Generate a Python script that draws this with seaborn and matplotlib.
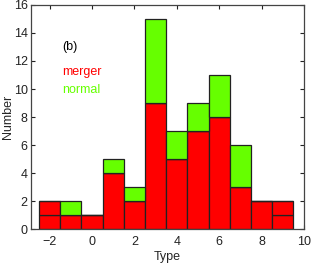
import pandas as pd
import numpy as np
import seaborn as sns
import matplotlib.pyplot as plt

# Morphological type bins and counts
types = [-2, -1, 0, 1, 2, 3, 4, 5, 6, 7, 8, 9]
merger_low = [1, 1, 1, 4, 2, 9, 5, 7, 8, 3, 2, 1]
merger_high = [1, 0, 0, 0, 0, 0, 0, 0, 0, 0, 0, 1]
normal = [0, 1, 0, 1, 1, 6, 2, 2, 3, 3, 0, 0]

groups = {"merger_low": merger_low, "merger_high": merger_high, "normal": normal}
rows = []
for name, counts in groups.items():
    for t, c in zip(types, counts):
        rows.append({"Type": t, "group": name, "count": c})
df = pd.DataFrame(rows)

red = "#ff0000"
green = "#66ff00"

sns.set_style("ticks")
plt.rcParams['font.family'] = ['Liberation Sans', 'DejaVu Sans']

fig = plt.figure(figsize=(3.14, 2.71), dpi=100)
ax = fig.add_axes([0.099, 0.154, 0.869, 0.828])

sns.histplot(data=df, x="Type", weights="count", hue="group",
             hue_order=["normal", "merger_high", "merger_low"],
             palette={"normal": green, "merger_high": red, "merger_low": red},
             multiple="stack", discrete=True, alpha=1,
             edgecolor="#222222", linewidth=0.9, legend=False, ax=ax)

ax.set_xlim(-2.87, 10)
ax.set_ylim(0, 16)
ax.set_xticks(range(-2, 11, 2))
ax.set_yticks(range(0, 17, 2))
ax.tick_params(direction="in", top=True, right=True, length=3, width=0.8,
               labelsize=9, colors="#222222", pad=2.5)
ax.tick_params(axis="x", pad=4.5)
for s in ax.spines.values():
    s.set_linewidth(0.9)
    s.set_color("#444444")
ax.set_xlabel("Type", fontsize=9, labelpad=2.5)
ax.set_ylabel("Number", fontsize=9)
ax.yaxis.set_label_coords(-0.062, 0.5)

ax.text(-1.38, 13.0, "(b)", fontsize=9, color="black", va="center")
ax.text(-1.42, 11.2, "merger", fontsize=9, color=red, va="center")
ax.text(-1.42, 9.95, "normal", fontsize=9, color=green, va="center")

fig.savefig("out.png", dpi=100)
